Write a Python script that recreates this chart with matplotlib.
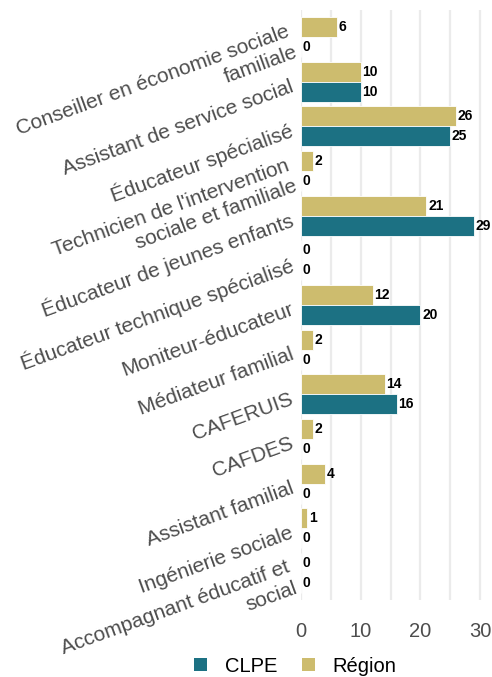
import matplotlib
matplotlib.use("Agg")
import matplotlib.pyplot as plt
from matplotlib.patches import Patch
import matplotlib.transforms as mtransforms
import numpy as np

plt.rcParams['font.family'] = ['Liberation Sans', 'DejaVu Sans']

categories = [
    "Conseiller en économie sociale\nfamiliale",
    "Assistant de service social",
    "Éducateur spécialisé",
    "Technicien de l'intervention\nsociale et familiale",
    "Éducateur de jeunes enfants",
    "Éducateur technique spécialisé",
    "Moniteur-éducateur",
    "Médiateur familial",
    "CAFERUIS",
    "CAFDES",
    "Assistant familial",
    "Ingénierie sociale",
    "Accompagnant éducatif et\nsocial",
]
region = [6, 10, 26, 2, 21, 0, 12, 2, 14, 2, 4, 1, 0]
clpe = [0, 10, 25, 0, 29, 0, 20, 0, 16, 0, 0, 0, 0]

col_clpe = "#1c7183"
col_region = "#cdbc6e"

fig = plt.figure(figsize=(4.92, 6.77), dpi=100)
ax = fig.add_axes([0.612, 0.114, 0.382, 0.871])

y = np.arange(len(categories))
h = 0.45
ax.barh(y - h / 2, region, height=h, color=col_region, edgecolor="white", linewidth=0.6, zorder=3)
ax.barh(y + h / 2, clpe, height=h, color=col_clpe, edgecolor="white", linewidth=0.6, zorder=3)

for yi, v in zip(y, region):
    ax.annotate(str(v), (v, yi - h / 2), xytext=(1.2, 0), textcoords="offset points",
                ha="left", va="center", fontsize=10, fontweight="bold", color="black", zorder=4)
for yi, v in zip(y, clpe):
    ax.annotate(str(v), (v, yi + h / 2), xytext=(1.2, 0), textcoords="offset points",
                ha="left", va="center", fontsize=10, fontweight="bold", color="black", zorder=4)

ax.set_xlim(0, 31.5)
ax.set_ylim(12.6, -0.6)
ax.set_xticks([0, 10, 20, 30])
ax.set_xticks([5, 15, 25], minor=True)
ax.grid(axis="x", which="both", color="#ebebeb", linewidth=1.6, zorder=0)
ax.grid(axis="y", visible=False)
ax.tick_params(axis="both", which="both", length=0)
ax.tick_params(axis="x", pad=16, labelsize=14.5, labelcolor="#4d4d4d")
ax.set_yticks(y)
ax.set_yticklabels(categories, rotation=20, ha="right", va="center",
                   rotation_mode="anchor", fontsize=15, color="#4d4d4d",
                   multialignment="right")
ax.tick_params(axis="y", pad=6)
shift = mtransforms.ScaledTranslation(0, -3 / 72, fig.dpi_scale_trans)
for lbl in ax.get_yticklabels():
    lbl.set_transform(lbl.get_transform() + shift)
for s in ax.spines.values():
    s.set_visible(False)

handles = [Patch(facecolor=col_clpe, edgecolor="none", label="CLPE"),
           Patch(facecolor=col_region, edgecolor="none", label="Région")]
fig.legend(handles=handles, loc="center", bbox_to_anchor=(0.6, 0.016), ncol=2,
           frameon=False, fontsize=14.5, handlelength=0.65, handleheight=0.65,
           handletextpad=0.9, columnspacing=1.2)

fig.savefig("out.png", dpi=100, facecolor="white")
